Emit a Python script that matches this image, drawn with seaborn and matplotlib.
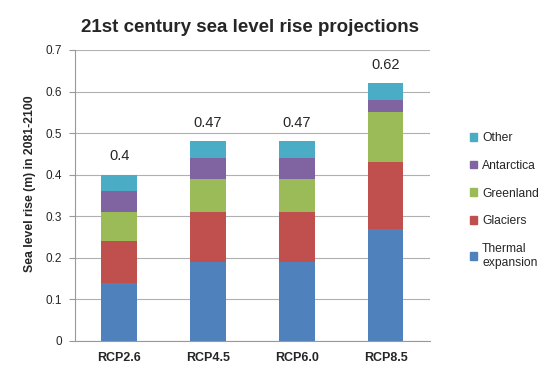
import matplotlib
matplotlib.use("Agg")
import matplotlib.pyplot as plt
import matplotlib.patches as mpatches
import numpy as np
import pandas as pd
import seaborn as sns

# data
scenarios = ["RCP2.6", "RCP4.5", "RCP6.0", "RCP8.5"]
thermal = [0.14, 0.19, 0.19, 0.27]
glaciers = [0.10, 0.12, 0.12, 0.16]
greenland = [0.07, 0.08, 0.08, 0.12]
antarctica = [0.05, 0.05, 0.05, 0.03]
other = [0.04, 0.04, 0.04, 0.04]
totals = [0.4, 0.47, 0.47, 0.62]

components = ["Thermal expansion", "Glaciers", "Greenland", "Antarctica", "Other"]
COLORS = ["#4F81BD", "#C0504D", "#9BBB59", "#8064A2", "#4BACC6"]

sns.set_style("white")
plt.rcParams["font.family"] = ["Liberation Sans", "DejaVu Sans"]

df = pd.DataFrame({"Scenario": scenarios,
                   "Thermal expansion": thermal, "Glaciers": glaciers,
                   "Greenland": greenland, "Antarctica": antarctica,
                   "Other": other})
cum = df[components].cumsum(axis=1)

fig = plt.figure(figsize=(5.5, 3.73), dpi=100)
ax = fig.add_axes([0.136, 0.086, 0.646, 0.78])

# stacked look: draw cumulative tops from largest to smallest
for comp, col in reversed(list(zip(components, COLORS))):
    sns.barplot(x=df["Scenario"], y=cum[comp], color=col, width=0.4,
                saturation=1, linewidth=0, ax=ax, zorder=2)

for i, t in enumerate(totals):
    ax.text(i, cum["Other"][i] + 0.028, f"{t:g}", ha="center", va="bottom",
            fontsize=10.5)

ax.set_ylim(0, 0.7)
ax.set_xlim(-0.5, 3.5)
ax.set_yticks(np.arange(0, 0.71, 0.1))
ax.set_yticklabels(["0"] + [f"{v:.1f}" for v in np.arange(0.1, 0.71, 0.1)],
                   fontsize=8.5)
ax.yaxis.grid(True, color="#b0b0b0", linewidth=0.8, zorder=0)
ax.set_axisbelow(True)
ax.set_xlabel("")
ax.set_ylabel("Sea level rise (m) in 2081-2100", fontsize=8.8,
              fontweight="bold")
ax.yaxis.set_label_coords(-0.11, 0.54)
ax.set_xticks(range(4))
ax.set_xticklabels(scenarios, fontsize=9, fontweight="bold")
ax.set_xticks(np.arange(-0.5, 3.6, 1), minor=True)
ax.tick_params(axis="x", which="major", length=0, pad=8)
ax.tick_params(axis="x", which="minor", length=4, color="#999999",
               direction="out")
ax.tick_params(axis="y", length=4, color="#999999", direction="out",
               left=True, pad=5)
for s in ["top", "right"]:
    ax.spines[s].set_visible(False)
for s in ["left", "bottom"]:
    ax.spines[s].set_color("#999999")
    ax.spines[s].set_linewidth(0.8)

fig.suptitle("21st century sea level rise projections", x=0.455, y=0.95,
             fontsize=13.5, fontweight="bold")

handles = [mpatches.Patch(color=c, label=("Thermal\nexpansion" if n == "Thermal expansion" else n))
           for n, c in zip(components, COLORS)][::-1]
fig.legend(handles=handles, loc="upper left", bbox_to_anchor=(0.835, 0.675),
           frameon=False, fontsize=8.7, handlelength=0.6, handleheight=0.6,
           handletextpad=0.4, labelspacing=1.3)

fig.savefig("out.png", dpi=100, facecolor="white")
